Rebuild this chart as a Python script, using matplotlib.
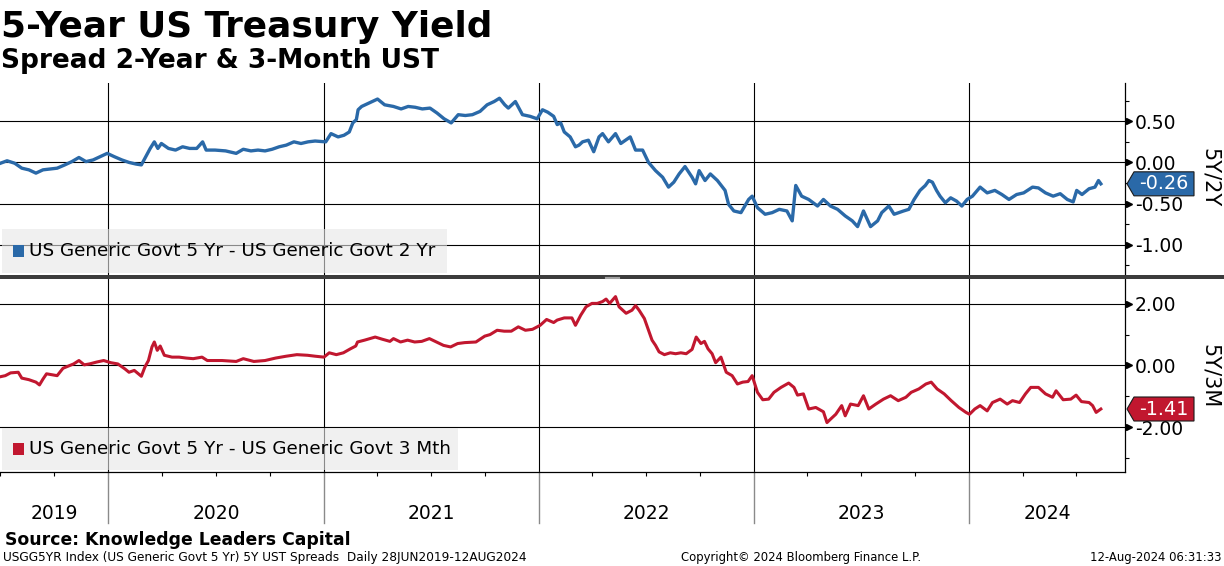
import matplotlib
matplotlib.use("Agg")
import matplotlib.pyplot as plt
import matplotlib.dates as mdates
from matplotlib.patches import Polygon, Rectangle
from matplotlib.lines import Line2D
from matplotlib.ticker import FixedLocator, FormatStrFormatter, NullFormatter
import numpy as np
import pandas as pd

plt.rcParams['font.family'] = ['DejaVu Sans']
plt.rcParams['axes.unicode_minus'] = False

W, H = 1224, 566
BLUE = "#2a69a8"
RED = "#c1172f"

# ---- data ----
# US Generic Govt 5 Yr - US Generic Govt 2 Yr
spread_2y_dates = [
    "2019-06-28", "2019-07-13", "2019-07-26", "2019-08-07", "2019-08-19", "2019-08-31",
    "2019-09-12", "2019-09-24", "2019-10-06", "2019-10-19", "2019-10-31", "2019-11-12",
    "2019-11-24", "2019-12-06", "2019-12-18", "2019-12-30", "2020-01-11", "2020-01-24",
    "2020-02-05", "2020-02-17", "2020-02-26", "2020-03-03", "2020-03-12", "2020-03-19",
    "2020-03-25", "2020-03-31", "2020-04-12", "2020-04-24", "2020-05-06", "2020-05-18",
    "2020-05-30", "2020-06-09", "2020-06-15", "2020-06-30", "2020-07-18", "2020-08-05",
    "2020-08-17", "2020-08-30", "2020-09-11", "2020-09-23", "2020-10-05", "2020-10-17",
    "2020-10-29", "2020-11-11", "2020-11-23", "2020-12-05", "2020-12-17", "2021-01-04",
    "2021-01-13", "2021-01-25", "2021-02-04", "2021-02-13", "2021-02-19", "2021-02-25",
    "2021-02-28", "2021-03-06", "2021-03-18", "2021-04-02", "2021-04-14", "2021-04-29",
    "2021-05-12", "2021-05-24", "2021-06-05", "2021-06-17", "2021-06-30", "2021-07-12",
    "2021-07-24", "2021-08-05", "2021-08-17", "2021-08-29", "2021-09-10", "2021-09-23",
    "2021-10-05", "2021-10-17", "2021-10-26", "2021-11-04", "2021-11-10", "2021-11-22",
    "2021-12-04", "2021-12-17", "2021-12-29",
    "2022-01-07", "2022-01-16", "2022-01-26", "2022-02-01", "2022-02-07", "2022-02-13",
    "2022-02-23", "2022-03-04", "2022-03-10", "2022-03-16", "2022-03-26", "2022-04-04",
    "2022-04-13", "2022-04-19", "2022-04-29", "2022-05-11", "2022-05-20", "2022-06-05",
    "2022-06-14", "2022-06-26", "2022-07-06", "2022-07-18", "2022-07-30", "2022-08-09",
    "2022-08-18", "2022-08-27", "2022-09-06", "2022-09-18", "2022-09-24", "2022-09-30",
    "2022-10-10", "2022-10-19", "2022-10-31", "2022-11-13", "2022-11-19", "2022-11-28",
    "2022-12-10", "2022-12-23", "2022-12-29", "2023-01-07", "2023-01-20", "2023-02-01",
    "2023-02-13", "2023-02-26", "2023-03-07", "2023-03-13", "2023-03-23", "2023-04-04",
    "2023-04-19", "2023-04-29", "2023-05-11", "2023-05-23", "2023-06-05", "2023-06-17",
    "2023-06-26", "2023-07-06", "2023-07-18", "2023-07-30", "2023-08-06", "2023-08-18",
    "2023-08-27", "2023-09-12", "2023-09-21", "2023-09-30", "2023-10-10", "2023-10-19",
    "2023-10-25", "2023-10-31", "2023-11-07", "2023-11-13", "2023-11-22", "2023-12-01",
    "2023-12-11", "2023-12-20", "2023-12-29", "2024-01-07", "2024-01-20", "2024-02-01",
    "2024-02-14", "2024-02-26", "2024-03-09", "2024-03-22", "2024-04-03", "2024-04-18",
    "2024-04-28", "2024-05-10", "2024-05-23", "2024-06-04", "2024-06-16", "2024-06-26",
    "2024-07-02", "2024-07-11", "2024-07-23", "2024-08-02", "2024-08-08", "2024-08-12",
]
spread_2y = [
    -0.02, 0.02, -0.01, -0.07, -0.09, -0.13,
    -0.09, -0.08, -0.07, -0.03, 0.01, 0.06,
    0.01, 0.03, 0.07, 0.11, 0.07, 0.03,
    0.00, -0.02, -0.03, 0.05, 0.17, 0.25,
    0.17, 0.23, 0.17, 0.15, 0.19, 0.17,
    0.17, 0.25, 0.15, 0.15, 0.14, 0.11,
    0.16, 0.14, 0.15, 0.14, 0.16, 0.19,
    0.21, 0.25, 0.23, 0.25, 0.26, 0.25,
    0.35, 0.31, 0.33, 0.37, 0.48, 0.52,
    0.64, 0.68, 0.72, 0.77, 0.70, 0.68,
    0.65, 0.68, 0.67, 0.65, 0.66, 0.60,
    0.53, 0.48, 0.58, 0.57, 0.58, 0.62,
    0.70, 0.74, 0.78, 0.70, 0.66, 0.74,
    0.58, 0.56, 0.53,
    0.64, 0.61, 0.56, 0.46, 0.48, 0.37,
    0.31, 0.19, 0.21, 0.25, 0.27, 0.13,
    0.31, 0.35, 0.25, 0.35, 0.23, 0.31,
    0.15, 0.15, 0.00, -0.10, -0.18, -0.30,
    -0.24, -0.14, -0.05, -0.18, -0.26, -0.10,
    -0.22, -0.14, -0.22, -0.34, -0.51, -0.59,
    -0.61, -0.45, -0.41, -0.55, -0.63, -0.61,
    -0.57, -0.59, -0.71, -0.28, -0.41, -0.45,
    -0.53, -0.45, -0.53, -0.57, -0.65, -0.71,
    -0.78, -0.59, -0.78, -0.71, -0.61, -0.53,
    -0.63, -0.59, -0.57, -0.45, -0.34, -0.28,
    -0.22, -0.24, -0.34, -0.41, -0.49, -0.43,
    -0.47, -0.53, -0.45, -0.41, -0.30, -0.37,
    -0.34, -0.39, -0.45, -0.39, -0.37, -0.30,
    -0.31, -0.37, -0.41, -0.38, -0.45, -0.48,
    -0.34, -0.39, -0.32, -0.30, -0.22, -0.26,
]

# US Generic Govt 5 Yr - US Generic Govt 3 Mth
spread_3m_dates = [
    "2019-06-28", "2019-07-10", "2019-07-19", "2019-08-01", "2019-08-07", "2019-08-19",
    "2019-08-31", "2019-09-06", "2019-09-12", "2019-09-18", "2019-09-27", "2019-10-06",
    "2019-10-16", "2019-10-25", "2019-11-03", "2019-11-12", "2019-11-21", "2019-11-30",
    "2019-12-12", "2019-12-24", "2020-01-05", "2020-01-17", "2020-01-29", "2020-02-05",
    "2020-02-14", "2020-02-26", "2020-03-03", "2020-03-09", "2020-03-15", "2020-03-19",
    "2020-03-24", "2020-03-29", "2020-04-05", "2020-04-18", "2020-04-30", "2020-05-12",
    "2020-05-24", "2020-06-08", "2020-06-17", "2020-07-12", "2020-08-05", "2020-08-17",
    "2020-09-04", "2020-09-23", "2020-10-11", "2020-10-29", "2020-11-16", "2020-12-04",
    "2020-12-17", "2021-01-01", "2021-01-10", "2021-01-22", "2021-02-03", "2021-02-15",
    "2021-02-24", "2021-02-27", "2021-03-11", "2021-03-29", "2021-04-10", "2021-04-23",
    "2021-04-29", "2021-05-11", "2021-05-23", "2021-06-04", "2021-06-16", "2021-06-29",
    "2021-07-11", "2021-07-23", "2021-08-04", "2021-08-16", "2021-08-28", "2021-09-16",
    "2021-10-01", "2021-10-10", "2021-10-22", "2021-11-03", "2021-11-15", "2021-11-27",
    "2021-12-09", "2021-12-21", "2022-01-03", "2022-01-14", "2022-01-26",
    "2022-02-01", "2022-02-13", "2022-02-26", "2022-03-04", "2022-03-13", "2022-03-22",
    "2022-04-01", "2022-04-10", "2022-04-19", "2022-04-25", "2022-05-01", "2022-05-11",
    "2022-05-17", "2022-05-29", "2022-06-08", "2022-06-14", "2022-06-20", "2022-06-29",
    "2022-07-05", "2022-07-12", "2022-07-18", "2022-07-24", "2022-08-02", "2022-08-12",
    "2022-08-21", "2022-08-30", "2022-09-08", "2022-09-18", "2022-09-25", "2022-10-03",
    "2022-10-09", "2022-10-15", "2022-10-22", "2022-10-28", "2022-11-06", "2022-11-15",
    "2022-11-25", "2022-12-04", "2022-12-13", "2022-12-22", "2022-12-29", "2023-01-07",
    "2023-01-16", "2023-01-26", "2023-02-04", "2023-02-16", "2023-03-01", "2023-03-10",
    "2023-03-16", "2023-03-26", "2023-04-04", "2023-04-16", "2023-04-29", "2023-05-05",
    "2023-05-11", "2023-05-20", "2023-05-30", "2023-06-05", "2023-06-14", "2023-06-27",
    "2023-07-06", "2023-07-15", "2023-07-27", "2023-08-09", "2023-08-21", "2023-09-03",
    "2023-09-16", "2023-09-25", "2023-10-08", "2023-10-20", "2023-10-29", "2023-11-08",
    "2023-11-20", "2023-12-02", "2023-12-15", "2023-12-27", "2024-01-02", "2024-01-11",
    "2024-01-20", "2024-02-01", "2024-02-10", "2024-02-23", "2024-03-06", "2024-03-15",
    "2024-03-27", "2024-04-06", "2024-04-15", "2024-04-28", "2024-05-10", "2024-05-22",
    "2024-05-28", "2024-06-09", "2024-06-22", "2024-07-01", "2024-07-10", "2024-07-23",
    "2024-07-29", "2024-08-04", "2024-08-12",
]
spread_3m = [
    -0.38, -0.33, -0.24, -0.22, -0.41, -0.46,
    -0.54, -0.63, -0.44, -0.27, -0.30, -0.33,
    -0.09, -0.02, 0.05, 0.16, 0.02, 0.05,
    0.11, 0.16, 0.09, 0.05, -0.11, -0.22,
    -0.16, -0.35, -0.05, 0.16, 0.60, 0.76,
    0.49, 0.63, 0.33, 0.27, 0.27, 0.24,
    0.22, 0.27, 0.16, 0.16, 0.13, 0.22,
    0.13, 0.16, 0.24, 0.30, 0.35, 0.33,
    0.30, 0.27, 0.41, 0.35, 0.41, 0.54,
    0.63, 0.76, 0.82, 0.92, 0.85, 0.78,
    0.87, 0.76, 0.82, 0.76, 0.78, 0.87,
    0.76, 0.65, 0.60, 0.71, 0.74, 0.76,
    0.95, 1.00, 1.14, 1.11, 1.11, 1.25,
    1.14, 1.17, 1.30, 1.49, 1.39,
    1.47, 1.54, 1.54, 1.30, 1.63, 1.90,
    2.01, 2.01, 2.07, 2.15, 2.01, 2.23,
    1.90, 1.69, 1.79, 1.94, 1.79, 1.52,
    1.20, 0.82, 0.65, 0.44, 0.35, 0.41,
    0.38, 0.41, 0.38, 0.52, 0.92, 0.71,
    0.78, 0.54, 0.38, 0.09, 0.27, -0.22,
    -0.33, -0.60, -0.54, -0.52, -0.33, -0.87,
    -1.11, -1.09, -0.87, -0.71, -0.57, -0.71,
    -0.96, -0.92, -1.41, -1.36, -1.50, -1.85,
    -1.74, -1.58, -1.30, -1.63, -1.25, -1.30,
    -0.98, -1.41, -1.25, -1.09, -0.98, -1.14,
    -1.03, -0.87, -0.76, -0.60, -0.54, -0.76,
    -0.92, -1.14, -1.36, -1.52, -1.58, -1.41,
    -1.30, -1.47, -1.20, -1.09, -1.25, -1.14,
    -1.20, -0.92, -0.71, -0.71, -0.92, -1.03,
    -0.82, -1.11, -1.09, -0.96, -1.17, -1.20,
    -1.30, -1.52, -1.41,
]

top_ticks = [0.5, 0.0, -0.5, -1.0]
top_minor = [0.75, 0.25, -0.25, -0.75, -1.25]
bot_ticks = [2.0, 0.0, -2.0]
bot_minor = [1.0, -1.0, -3.0]
years = [2019, 2020, 2021, 2022, 2023, 2024]

labels = ["US Generic Govt 5 Yr - US Generic Govt 2 Yr",
          "US Generic Govt 5 Yr - US Generic Govt 3 Mth"]

d2 = pd.to_datetime(spread_2y_dates)
d3 = pd.to_datetime(spread_3m_dates)
x_lo, x_hi = pd.Timestamp("2019-07-01"), pd.Timestamp("2024-09-22")


def fx(px):
    return px / W


def fy(py):
    return 1 - py / H


fig = plt.figure(figsize=(W / 100, H / 100), dpi=100)
ax1 = fig.add_axes([0, fy(276), fx(1125), fy(83) - fy(276)])
ax2 = fig.add_axes([0, fy(472), fx(1125), fy(279) - fy(472)], sharex=ax1)

ax1.plot(d2, spread_2y, color=BLUE, lw=2.4, solid_joinstyle="round", zorder=3)
ax2.plot(d3, spread_3m, color=RED, lw=2.2, solid_joinstyle="round", zorder=3)


def style(ax, ylim, major, minor):
    ax.set_ylim(*ylim)
    ax.yaxis.tick_right()
    ax.yaxis.set_major_locator(FixedLocator(major))
    ax.yaxis.set_minor_locator(FixedLocator(minor))
    ax.yaxis.set_major_formatter(FormatStrFormatter("%.2f"))
    ax.tick_params(axis="y", which="major", length=0, pad=7, labelsize=13.5)
    ax.tick_params(axis="y", which="minor", length=3, width=0.8, direction="out")
    for s in ["left", "top", "bottom"]:
        ax.spines[s].set_visible(False)
    ax.spines["right"].set_linewidth(0.9)
    ax.grid(True, which="major", color="black", lw=0.8)
    ax.plot(np.full(len(major), 1.0035), major, transform=ax.get_yaxis_transform(),
            ls="none", marker=">", ms=5, color="black", clip_on=False)


style(ax1, (-1.38, 0.965), top_ticks, top_minor)
style(ax2, (-3.45, 2.8), bot_ticks, bot_minor)
ax2.spines["bottom"].set_visible(True)
ax2.spines["bottom"].set_linewidth(0.9)

ax2.set_xlim(x_lo, x_hi)
ax2.xaxis.set_major_locator(mdates.YearLocator())
ax2.xaxis.set_minor_locator(mdates.MonthLocator(bymonth=[4, 7, 10]))
ax2.xaxis.set_major_formatter(NullFormatter())
ax2.tick_params(axis="x", which="major", length=0)
ax2.tick_params(axis="x", which="minor", length=3, width=0.8, direction="out")
ax1.tick_params(axis="x", which="both", length=0, labelbottom=False)

# year separators and labels below the chart
xt = ax2.get_xaxis_transform()
for yr in years:
    start = max(pd.Timestamp(f"{yr}-01-01"), x_lo)
    end = min(pd.Timestamp(f"{yr + 1}-01-01"), x_hi)
    if yr > years[0]:
        ax2.plot([start, start], [0, -0.265], transform=xt, color="#8a8a8a",
                 lw=1, clip_on=False)
    ax2.text(start + (end - start) / 2, -0.245, str(yr), transform=xt,
             ha="center", va="baseline", fontsize=13.5)

# separator between panels
fig.patches.append(Rectangle((0, fy(279)), 1, fy(275) - fy(279), transform=fig.transFigure,
                             facecolor="#3c3c3c", edgecolor="none"))
for yy in (276.6, 277.9):
    fig.lines.append(Line2D([fx(605), fx(619)], [fy(yy), fy(yy)], transform=fig.transFigure,
                            color="#a0a0a0", lw=0.8))

# legends
for (bx0, by0, bx1, by1), col, lab in [((2, 229, 447, 273), BLUE, labels[0]),
                                       ((2, 428, 458, 470), RED, labels[1])]:
    fig.patches.append(Rectangle((fx(bx0), fy(by1)), fx(bx1) - fx(bx0), fy(by0) - fy(by1),
                                 transform=fig.transFigure, facecolor="#e6e6e6",
                                 edgecolor="none", alpha=0.6, zorder=5))
    cy = (by0 + by1) / 2
    fig.patches.append(Rectangle((fx(13), fy(cy + 6)), fx(11), fy(cy - 6) - fy(cy + 6),
                                 transform=fig.transFigure, facecolor=col,
                                 edgecolor="none", zorder=6))
    fig.text(fx(29), fy(cy), lab, fontsize=13.2, va="center", ha="left", zorder=6)


# last value tags
def tag(ax, dates, vals, col):
    disp = ax.transData.transform((mdates.date2num(dates[-1]), vals[-1]))
    yc = H - disp[1]
    pts = [(1127, yc), (1134, yc - 12), (1194, yc - 12), (1194, yc + 12), (1134, yc + 12)]
    fig.patches.append(Polygon([(fx(a), fy(b)) for a, b in pts], closed=True,
                               transform=fig.transFigure, facecolor=col,
                               edgecolor="#1a1a1a", lw=0.8, zorder=7))
    fig.text(fx(1164), fy(yc), f"{vals[-1]:.2f}", color="white", fontsize=13.8,
             ha="center", va="center", zorder=8)


tag(ax1, d2, spread_2y, BLUE)
tag(ax2, d3, spread_3m, RED)

fig.text(fx(1210), fy(178), "5Y/2Y", rotation=270, ha="center", va="center", fontsize=15)
fig.text(fx(1210), fy(376), "5Y/3M", rotation=270, ha="center", va="center", fontsize=15)

# titles and footer
fig.text(fx(1), fy(37), "5-Year US Treasury Yield", fontsize=25.8, fontweight="bold",
         va="baseline", ha="left")
fig.text(fx(1), fy(68), "Spread 2-Year & 3-Month UST", fontsize=19, fontweight="bold",
         va="baseline", ha="left")
fig.text(fx(5), fy(545), "Source: Knowledge Leaders Capital", fontsize=12.4,
         fontweight="bold", va="baseline", ha="left")
fig.text(fx(3), fy(561), "USGG5YR Index (US Generic Govt 5 Yr) 5Y UST Spreads  Daily 28JUN2019-12AUG2024",
         fontsize=8.7, va="baseline", ha="left")
fig.text(fx(801), fy(561), "Copyright\u00a9 2024 Bloomberg Finance L.P.", fontsize=8.4,
         va="baseline", ha="center")
fig.text(fx(1221), fy(561), "12-Aug-2024 06:31:33", fontsize=8.4, va="baseline", ha="right")

fig.savefig("out.png", dpi=100)
